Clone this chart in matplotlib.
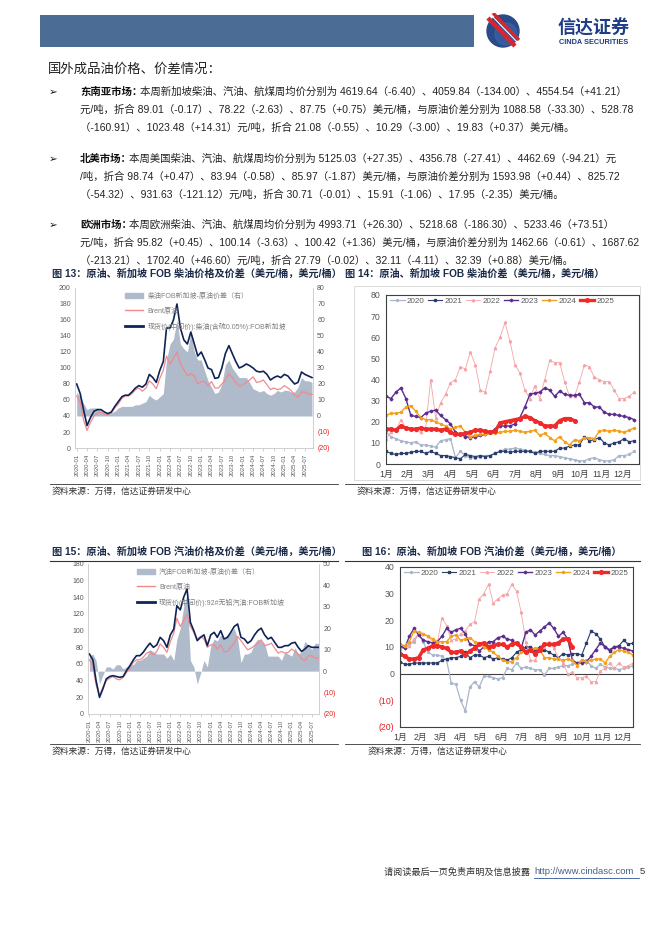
import matplotlib
matplotlib.use("Agg")
import matplotlib.pyplot as plt
import matplotlib.dates as mdates
import numpy as np
import pandas as pd
from matplotlib.patches import Rectangle, Circle, Patch
from matplotlib.lines import Line2D

plt.rcParams['font.family'] = ['Liberation Sans', 'Noto Sans CJK SC', 'DejaVu Sans']

# ---------------- data ----------------
months = pd.date_range('2020-01-01', periods=69, freq='MS')

brent = [65, 57, 35, 22, 32, 40, 43, 45, 42, 41, 44, 50,
         55, 62, 65, 65, 68, 73, 75, 71, 75, 84, 80, 74,
         87, 97, 115, 105, 112, 120, 105, 98, 90, 93, 90, 80,
         83, 83, 78, 83, 75, 75, 80, 85, 93, 88, 82, 77,
         79, 82, 85, 89, 82, 83, 85, 79, 73, 75, 73, 74,
         78, 75, 72, 66, 64, 70, 70, 67, 67]
diesel_sg = [80, 68, 48, 28, 38, 46, 48, 48, 45, 43, 45, 52,
             58, 64, 66, 66, 70, 75, 78, 76, 80, 92, 88, 82,
             97, 108, 150, 150, 160, 180, 150, 135, 130, 145, 130, 115,
             120, 110, 100, 98, 87, 88, 100, 118, 128, 118, 108, 100,
             102, 105, 103, 100, 96, 95, 96, 92, 85, 88, 90, 88,
             92, 90, 85, 80, 82, 95, 92, 90, 88]
diesel_spread = [15, 12, 8, 4, 5, 5, 5, 3, 2, 2, 2, 3,
                 5, 6, 6, 6, 6, 7, 7, 8, 9, 13, 11, 10,
                 12, 14, 35, 45, 48, 60, 45, 42, 40, 52, 40, 35,
                 35, 28, 22, 18, 14, 15, 20, 32, 35, 30, 27, 24,
                 24, 24, 21, 17, 16, 15, 16, 14, 13, 14, 16, 15,
                 16, 16, 15, 15, 18, 24, 22, 22, 21]
gasoline_sg = [72, 65, 40, 20, 30, 42, 45, 46, 45, 44, 45, 52,
               58, 65, 70, 70, 74, 80, 85, 80, 83, 92, 88, 80,
               95, 102, 130, 125, 140, 150, 110, 100, 88, 92, 95, 82,
               95, 98, 92, 100, 90, 92, 98, 105, 108, 92, 90, 85,
               88, 95, 100, 103, 95, 90, 92, 86, 80, 80, 82, 82,
               85, 86, 80, 75, 78, 82, 80, 80, 80]
gasoline_spread = [7, 8, 5, -6, -2, 2, 2, 1, 3, 3, 1, 2,
                   3, 3, 5, 5, 6, 7, 10, 9, 8, 8, 8, 6,
                   8, 5, 15, 20, 30, 36, 5, 2, -6, -1, 5, 2,
                   12, 15, 14, 17, 15, 17, 18, 20, 15, 4, 8, 8,
                   9, 13, 15, 14, 13, 7, 7, 7, 7, 5, 9, 8,
                   7, 11, 8, 9, 14, 12, 10, 13, 13]

years = ['2020', '2021', '2022', '2023', '2024', '2025']
month_labels = ['1月', '2月', '3月', '4月', '5月', '6月', '7月', '8月', '9月', '10月', '11月', '12月']

# weekly diesel spread by year (chart 14)
d2020 = [15, 13, 12, 11, 10.5, 10, 10.5, 9, 9, 8.5, 8, 11, 11.5, 12, 3, 6, 4, 3, 3, 3.5,
         4, 4, 5, 6, 7, 7, 7.5, 7, 6.5, 6, 5.5, 5, 4.5, 4, 4, 3.5, 3, 2.5, 2, 1.5,
         1.5, 2.5, 3, 2, 1.5, 1.5, 2, 4, 4, 4.5, 6]
d2021 = [6, 5, 4.5, 5, 5, 5.5, 6, 6, 5, 6, 5, 4, 4, 3.5, 3, 2.5, 4.5, 4, 3.5, 4,
         3.5, 4, 5, 6, 6, 5.5, 6, 6, 6, 6, 5, 6, 6, 6, 6, 7.5, 7.5, 8.5, 9, 9,
         13, 11, 11.5, 12.5, 10, 9, 10, 10.5, 12, 10.5, 11]
d2022 = [12, 15, 16, 21, 17, 17, 16, 15, 17, 40, 22, 29, 33, 38.5, 40, 46, 45, 53, 47, 35,
         34, 44, 55, 60, 67, 58, 47, 43, 35, 31, 37, 31, 40, 49, 48, 48, 39, 32, 32, 39,
         47, 46, 41, 40, 39, 39, 35, 31, 31, 32, 34]
d2023 = [32, 31, 34, 36, 31, 23, 22.5, 22, 24, 25, 25.5, 23, 21, 19, 15, 14, 13, 12.5, 13, 13.5,
         14, 15, 16.5, 18, 18, 18, 19, 22, 27, 33, 33.5, 34, 36, 35, 32, 34.5, 33, 32.5, 32.5, 33,
         29, 29, 27, 27, 24.5, 23.5, 23.5, 23, 22.5, 22, 21]
d2024 = [23, 24, 24, 24.5, 27, 27.5, 25, 22, 21, 21, 20, 19, 18, 16.5, 17.5, 18, 15, 13, 13.5, 14,
         14, 14.5, 14.5, 15, 15.5, 15.5, 16, 15.5, 15, 15.5, 16, 13.5, 14.5, 12.5, 11, 13, 10.5, 9, 11.5, 11,
         12.5, 12.5, 12, 15.5, 16, 15.5, 16, 15.5, 15, 16, 17]
d2025 = [16.5, 16.5, 16, 18, 17, 16.5, 16.5, 17, 16.5, 16.5, 16.5, 16, 16.5, 15, 14, 14, 14.5, 15, 16, 16,
         15.5, 15, 15.5, 19.5, 20, 20.5, 21, 21.5, 22.5, 22, 20.5, 19.5, 18, 18, 18, 20.5, 21.5, 21.5, 20.5]

# weekly gasoline spread by year (chart 16)
g2020 = [9, 10, 11, 12, 15, 12, 8, 7, 7, 6.5, 5, -3.5, -4, -10, -14, -5, -3, -5, -1, -1,
         -1.5, -2, -1.5, 2, 1.5, 4, 2, 2.5, 2, 1.5, 1.5, -0.5, 2, 2, 2.5, 3, 3, 3.5, 4, 5,
         5, 3, 2, 3.5, 2.5, 2, 2, 1.5, 2, 2.5, 3]
g2021 = [4.5, 3.5, 3.5, 4, 4, 4, 4, 4, 4, 5, 5.5, 6, 6, 6.5, 8, 6, 7, 7, 6, 6.5,
         5.5, 6, 5.5, 5, 6, 8, 9, 10, 10, 9, 10, 9, 8, 7, 6, 7.5, 7, 7.5, 7.5, 7,
         11.5, 16, 15, 13, 10, 8.5, 10, 10.5, 12.5, 11, 11.5]
g2022 = [11, 10, 10.5, 13, 15, 15, 14, 12, 11.5, 21, 18, 12.5, 13, 15, 16, 18.5, 19.5, 28, 30, 33.5,
         26.5, 28, 29.5, 30, 33.5, 31, 23, 12, 5, 5, 9, 10, 12, 9.5, 6, 4, 0, 0.5, -1.5, -1.5,
         -1, -3, -3, 1, 2, 4, 2, 4, 2.5, 3, 4]
g2023 = [10.5, 9.5, 14, 17, 14.5, 12.5, 12, 11.5, 12, 14, 17, 15.5, 16.5, 17, 15, 11, 10.5, 8.5, 10, 12,
         12, 13.5, 14, 13, 12.5, 11, 9.5, 15.5, 16.5, 14.5, 16, 17.5, 19, 17, 14, 15.5, 13, 5, 4, 4,
         4.5, 6.5, 9, 11.5, 10, 9, 10, 10, 9.5, 9, 8.5]
g2024 = [11, 10.5, 12, 16, 15.5, 15, 14, 13, 12, 12, 12, 14, 14.5, 12.5, 13, 13.5, 12, 11.5, 10, 9,
         8, 6.5, 5, 4.5, 4.5, 6, 8, 8.5, 9, 9.5, 9, 6, 6, 5.5, 5.5, 5, 5.5, 5, 3, 5,
         4.5, 5, 5.5, 5.5, 4, 6.5, 8, 9, 8.5, 8, 7]
g2025 = [7.5, 6.5, 5.5, 5.5, 6, 9, 9.5, 10.5, 10.5, 10, 9.5, 8, 8, 8.5, 7, 8.5, 9.5, 11, 11.5, 10,
         10.5, 11, 11, 10, 11, 11.5, 10, 8, 9, 7.5, 9, 11, 11, 11, 11.5, 13, 13, 10]

# ---------------- style ----------------
W, H = 662, 936
NAVY = '#0f2456'
BRENT = '#f28a8c'
GRAY = '#afbacb'
TXT = '#595959'
NEG = '#e8201f'
TITLE = '#1b2a48'

year_style = {
    '2020': dict(color='#a9b6cb', lw=0.9, marker='o', ms=1.4),
    '2021': dict(color='#2b3d6b', lw=0.8, marker='s', ms=1.7),
    '2022': dict(color='#f5a3a6', lw=0.6, marker='^', ms=1.7),
    '2023': dict(color='#5b2d8e', lw=1.0, marker='D', ms=1.4),
    '2024': dict(color='#f5a01a', lw=1.0, marker='o', ms=1.5),
    '2025': dict(color='#ee2a2a', lw=2.4, marker='o', ms=2.6),
}


def fx(x):
    return x / W


def fy(y):
    return 1 - y / H


def box(x0, y0, x1, y1):
    return [x0 / W, 1 - y1 / H, (x1 - x0) / W, (y1 - y0) / H]


def hline(x0, x1, y, color='#333333', lw=0.6):
    fig.add_artist(Line2D([fx(x0), fx(x1)], [fy(y), fy(y)], transform=fig.transFigure,
                          color=color, lw=lw))


def neg_labels(ticks):
    return [f'({abs(v)})' if v < 0 else str(v) for v in ticks]


fig = plt.figure(figsize=(W / 100, H / 100), dpi=100)
fig.patch.set_facecolor('white')
rend = fig.canvas.get_renderer()


def fit_right(t, right=640):
    # shrink a body line a little if it runs past the text column
    bb = t.get_window_extent(renderer=rend)
    if bb.x1 > right:
        t.set_fontsize(t.get_fontsize() * (right - bb.x0) / (bb.x1 - bb.x0))


# ---------------- header ----------------
fig.add_artist(Rectangle((fx(40), fy(47)), (474 - 40) / W, 32 / H, transform=fig.transFigure,
                         color='#4b6d95', lw=0))
axl = fig.add_axes(box(485, 13, 521, 49))
axl.set_xlim(0, 36)
axl.set_ylim(36, 0)
axl.set_aspect('equal')
axl.axis('off')
axl.add_patch(Circle((18, 18), 16, color='#2a4a8a'))
axl.add_patch(Circle((21, 21), 11, color='#3f66ac', alpha=0.6))
axl.plot([3, 30], [5, 33], color='#d8262e', lw=3.2, solid_capstyle='butt')
axl.plot([6, 33], [2, 30], color='white', lw=0.8)
axl.plot([8, 34], [0, 27], color='#d8262e', lw=2.4, solid_capstyle='butt')
fig.text(fx(594), fy(29), '信达证券', fontsize=13, fontweight='bold', color='#1e3d86',
         ha='center', va='center')
fig.text(fx(594), fy(43), 'CINDA SECURITIES', fontsize=5.3, fontweight='bold', color='#1e3d86',
         ha='center', va='center')

# ---------------- paragraphs ----------------
fig.text(fx(48), fy(70), '国外成品油价格、价差情况：', fontsize=9.6, color='#222222', va='center')

paras = [
    (92, '东南亚市场：',
     ['本周新加坡柴油、汽油、航煤周均价分别为 4619.64（-6.40）、4059.84（-134.00）、4554.54（+41.21）',
      '元/吨，折合 89.01（-0.17）、78.22（-2.63）、87.75（+0.75）美元/桶，与原油价差分别为 1088.58（-33.30）、528.78',
      '（-160.91）、1023.48（+14.31）元/吨，折合 21.08（-0.55）、10.29（-3.00）、19.83（+0.37）美元/桶。']),
    (159, '北美市场：',
     ['本周美国柴油、汽油、航煤周均价分别为 5125.03（+27.35）、4356.78（-27.41）、4462.69（-94.21）元',
      '/吨，折合 98.74（+0.47）、83.94（-0.58）、85.97（-1.87）美元/桶，与原油价差分别为 1593.98（+0.44）、825.72',
      '（-54.32）、931.63（-121.12）元/吨，折合 30.71（-0.01）、15.91（-1.06）、17.95（-2.35）美元/桶。']),
    (225, '欧洲市场：',
     ['本周欧洲柴油、汽油、航煤周均价分别为 4993.71（+26.30）、5218.68（-186.30）、5233.46（+73.51）',
      '元/吨，折合 95.82（+0.45）、100.14（-3.63）、100.42（+1.36）美元/桶，与原油价差分别为 1462.66（-0.61）、1687.62',
      '（-213.21）、1702.40（+46.60）元/吨，折合 27.79（-0.02）、32.11（-4.11）、32.39（+0.88）美元/桶。']),
]
FS = 7.5
for y0, head, lines in paras:
    fig.text(fx(49), fy(y0), '➢', fontsize=7.5, family='DejaVu Sans', color='#111111', va='center')
    t = fig.text(fx(80), fy(y0), head, fontsize=FS, fontweight='bold', color='#111111', va='center')
    bb = t.get_window_extent(renderer=rend)
    t = fig.text(bb.x1 / fig.bbox.width - 0.004, fy(y0), lines[0], fontsize=FS, color='#222222',
                 va='center')
    fit_right(t)
    for i, ln in enumerate(lines[1:]):
        t = fig.text(fx(80), fy(y0 + 18 * (i + 1)), ln, fontsize=FS, color='#222222', va='center')
        fit_right(t)

# ---------------- titles / sources ----------------
title_kw = dict(fontsize=7.3, fontweight='bold', color=TITLE, va='center')
fig.text(fx(52), fy(274), '图 13：原油、新加坡 FOB 柴油价格及价差（美元/桶，美元/桶）', **title_kw)
fig.text(fx(345), fy(274), '图 14：原油、新加坡 FOB 柴油价差（美元/桶，美元/桶）', **title_kw)
fig.text(fx(52), fy(552), '图 15：原油、新加坡 FOB 汽油价格及价差（美元/桶，美元/桶）', **title_kw)
fig.text(fx(492), fy(552), '图 16：原油、新加坡 FOB 汽油价差（美元/桶，美元/桶）', ha='center', **title_kw)

hline(50, 338, 561, lw=0.8)
hline(345, 640, 561, lw=0.8)
hline(50, 338, 484)
hline(345, 640, 484)
hline(50, 338, 744)
hline(345, 640, 744)

src = '资料来源：万得，信达证券研发中心'
for x, y in [(52, 491), (357, 491), (52, 751), (368, 751)]:
    fig.text(fx(x), fy(y), src, fontsize=6.3, color='#333333', va='center', style='italic')

fig.add_artist(Rectangle((fx(354), fy(480)), (640 - 354) / W, (480 - 286) / H,
                         transform=fig.transFigure, fill=False, edgecolor='#d6d6d6', lw=0.6))


# ---------------- price + spread charts ----------------
def price_chart(rect, price, spread, lims, rlims, xl, labels):
    ax = fig.add_axes(rect)
    ax2 = ax.twinx()
    ax.set_zorder(ax2.get_zorder() + 1)
    ax.patch.set_visible(False)
    ax2.fill_between(months, 0, spread, color=GRAY, lw=0)
    ax.plot(months, brent, color=BRENT, lw=0.9)
    ax.plot(months, price, color=NAVY, lw=1.2)
    ax.set_xlim(pd.Timestamp(xl[0]), pd.Timestamp(xl[1]))
    ax.set_ylim(*lims)
    ax.set_yticks(np.arange(lims[0], lims[1] + 1, 20))
    ax2.set_ylim(*rlims)
    rt = list(range(rlims[0], rlims[1] + 1, 10))
    ax2.set_yticks(rt)
    ax2.set_yticklabels(neg_labels(rt))
    for lab, v in zip(ax2.get_yticklabels(), rt):
        lab.set_color(NEG if v < 0 else TXT)
    ax2.tick_params(axis='y', length=0, labelsize=5, pad=3)
    ax.tick_params(axis='y', length=0, labelsize=5, colors=TXT, pad=3)
    ax.xaxis.set_major_locator(mdates.MonthLocator(bymonth=[1, 4, 7, 10]))
    ax.xaxis.set_major_formatter(mdates.DateFormatter('%Y-%m'))
    ax.tick_params(axis='x', length=2, width=0.5, color='#bfbfbf', labelsize=4.3,
                   labelcolor=TXT, rotation=90, pad=2)
    for s in ax2.spines.values():
        s.set_visible(False)
    ax.spines['top'].set_visible(False)
    for k in ['left', 'right', 'bottom']:
        ax.spines[k].set_color('#c8c8c8')
        ax.spines[k].set_linewidth(0.6)
    handles = [Patch(color=GRAY), Line2D([], [], color=BRENT, lw=1.0),
               Line2D([], [], color=NAVY, lw=2.0)]
    leg = ax.legend(handles, labels, loc='upper left', bbox_to_anchor=(0.19, 1.0),
                    frameon=False, fontsize=5, handlelength=2.6, handleheight=0.6,
                    labelspacing=1.1, handletextpad=0.6, borderaxespad=0.3)
    for t in leg.get_texts():
        t.set_color('#7f7f7f')
    return ax


price_chart(box(75, 288, 313, 448), diesel_sg, diesel_spread, (0, 200), (-20, 80),
            ('2019-12-17', '2025-09-10'),
            ['柴油FOB新加坡-原油价差（右）', 'Brent原油', '现货价(中间价):柴油(含硫0.05%):FOB新加坡'])
price_chart(box(88, 564, 319, 714), gasoline_sg, gasoline_spread, (0, 180), (-20, 50),
            ('2019-12-19', '2025-09-05'),
            ['汽油FOB新加坡-原油价差（右）', 'Brent原油', '现货价(中间价):92#无铅汽油:FOB新加坡'])


# ---------------- seasonal charts ----------------
def season_chart(rect, series, ylim, xmax, neg_red):
    ax = fig.add_axes(rect)
    for yr, vals in zip(years, series):
        ax.plot(np.arange(len(vals)), vals, label=yr, **year_style[yr])
    ax.set_xlim(0, xmax)
    ax.set_ylim(*ylim)
    ax.set_xticks(np.arange(12) * 52 / 12)
    ax.set_xticklabels(month_labels)
    yt = list(range(ylim[0], ylim[1] + 1, 10))
    ax.set_yticks(yt)
    ax.set_yticklabels(neg_labels(yt))
    for lab, v in zip(ax.get_yticklabels(), yt):
        lab.set_color(NEG if (v < 0 and neg_red) else TXT)
    ax.tick_params(axis='both', length=0, labelsize=6.3, pad=4)
    ax.tick_params(axis='x', colors='#404040')
    for s in ax.spines.values():
        s.set_color('#404040')
        s.set_linewidth(0.8)
    leg = ax.legend(loc='upper left', bbox_to_anchor=(0.0, 1.01), ncol=6, frameon=False,
                    fontsize=5.8, handlelength=1.8, columnspacing=0.45, handletextpad=0.25,
                    borderaxespad=0.2, borderpad=0.3)
    for t in leg.get_texts():
        t.set_color(TXT)
    return ax


season_chart(box(386, 295, 639, 464), [d2020, d2021, d2022, d2023, d2024, d2025],
             (0, 80), 51, False)
ax16 = season_chart(box(400, 567, 633, 727), [g2020, g2021, g2022, g2023, g2024, g2025],
                    (-20, 40), 50, True)
ax16.axhline(0, color='#404040', lw=0.8, zorder=0)

# ---------------- footer ----------------
fig.text(fx(533), fy(872), '请阅读最后一页免责声明及信息披露 ', fontsize=6.6, color='#333333',
         ha='right', va='center')
fig.text(fx(534), fy(872), 'http://www.cindasc.com', fontsize=6.8, color='#4a5f86', va='center')
fig.text(fx(640), fy(872), '5', fontsize=6.8, color='#333333', va='center')
hline(534, 639, 878, color='#2f5597', lw=0.6)

fig.savefig('out.png', dpi=100)
